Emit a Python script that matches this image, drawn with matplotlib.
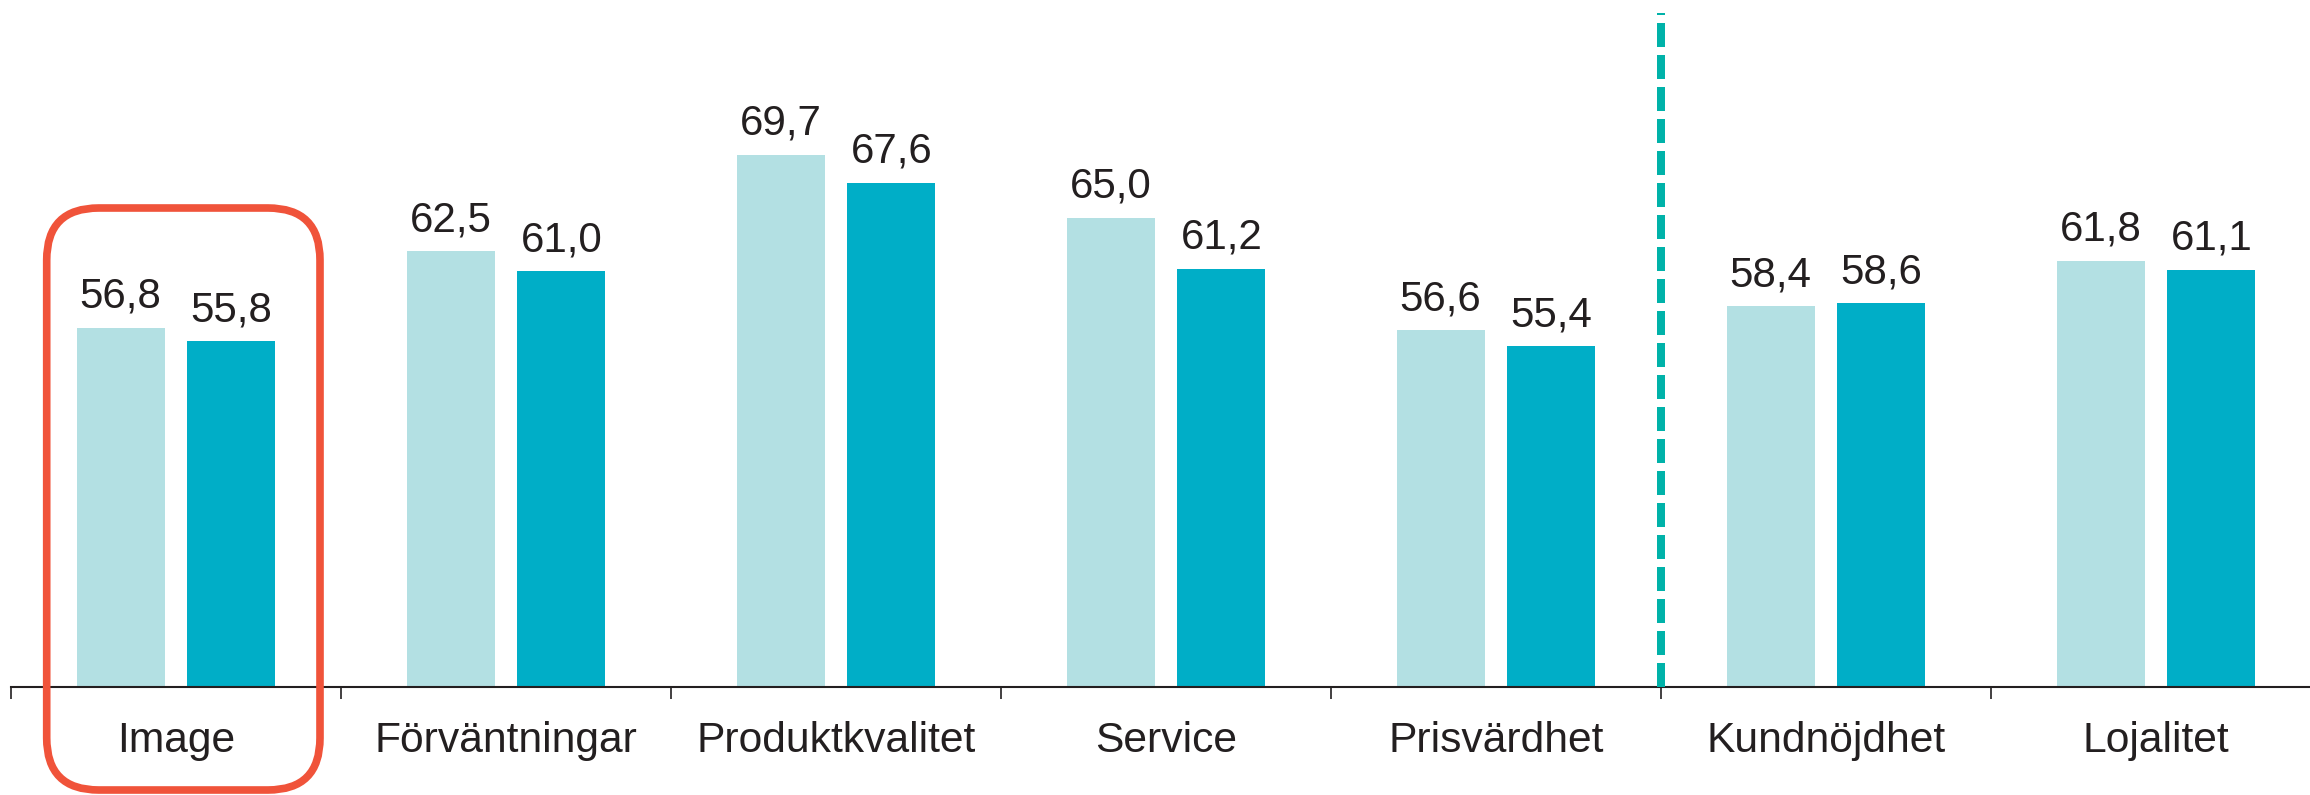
import matplotlib
matplotlib.use("Agg")
import matplotlib.pyplot as plt
from matplotlib.patches import FancyBboxPatch
from matplotlib.transforms import IdentityTransform
import numpy as np

categories = ["Image", "Förväntningar", "Produktkvalitet", "Service",
              "Prisvärdhet", "Kundnöjdhet", "Lojalitet"]
values_prev = [56.8, 62.5, 69.7, 65.0, 56.6, 58.4, 61.8]
values_curr = [55.8, 61.0, 67.6, 61.2, 55.4, 58.6, 61.1]

LIGHT = "#b3e0e3"
DARK = "#00aec7"
TEXT = "#231f20"
DIVIDER = "#00b2a9"
HIGHLIGHT = "#f0533a"

plt.rcParams['font.family'] = ['Liberation Sans', 'DejaVu Sans']

DPI = 100
fig = plt.figure(figsize=(23.10, 7.95), dpi=DPI)
ax = fig.add_axes([11 / 2310, 108.3 / 795, 1.0, 686.7 / 795])

x = np.arange(len(categories))
bar_w = 0.267
off = 0.168
base = 30

ax.bar(x - off, np.array(values_prev) - base, bar_w, bottom=base, color=LIGHT, zorder=2)
ax.bar(x + off, np.array(values_curr) - base, bar_w, bottom=base, color=DARK, zorder=2)

for xs, vals in ((x - off, values_prev), (x + off, values_curr)):
    for xi, v in zip(xs, vals):
        ax.annotate(f"{v:.1f}".replace(".", ","), xy=(xi, v), xytext=(0, 14.4),
                    textcoords="offset points", ha="center", va="baseline",
                    fontsize=30.3, color=TEXT)

# category labels under the axis
for xi, name in zip(x, categories):
    ax.annotate(name, xy=(xi, 0), xycoords=("data", "axes fraction"),
                xytext=(0, -46.8), textcoords="offset points",
                ha="center", va="baseline", fontsize=30.7, color=TEXT)

ax.set_xlim(-0.5, len(categories) - 0.5)
ax.set_ylim(base, 81.25)

# separator ticks between groups
ax.set_xticks(np.arange(len(categories) + 1) - 0.5)
ax.set_xticklabels([])
ax.tick_params(axis="x", direction="out", length=8.6, width=1.2, color=TEXT)
ax.set_yticks([])
for side in ("top", "right", "left"):
    ax.spines[side].set_visible(False)
ax.spines["bottom"].set_color(TEXT)
ax.spines["bottom"].set_linewidth(1.5)
ax.spines["bottom"].set_zorder(3)

# dashed divider before the outcome measures
ax.plot([4.5, 4.5], [base, 80.28], color=DIVIDER, lw=5.76, dashes=(3, 1),
        solid_capstyle="butt", clip_on=False, zorder=4)

# highlight box around the first group
box = FancyBboxPatch((46.7, 5), 273.3, 582, boxstyle="round,pad=0,rounding_size=52",
                     transform=IdentityTransform(), fill=False,
                     edgecolor=HIGHLIGHT, linewidth=5.5, zorder=5)
fig.add_artist(box)

fig.savefig("out.png", dpi=DPI)
